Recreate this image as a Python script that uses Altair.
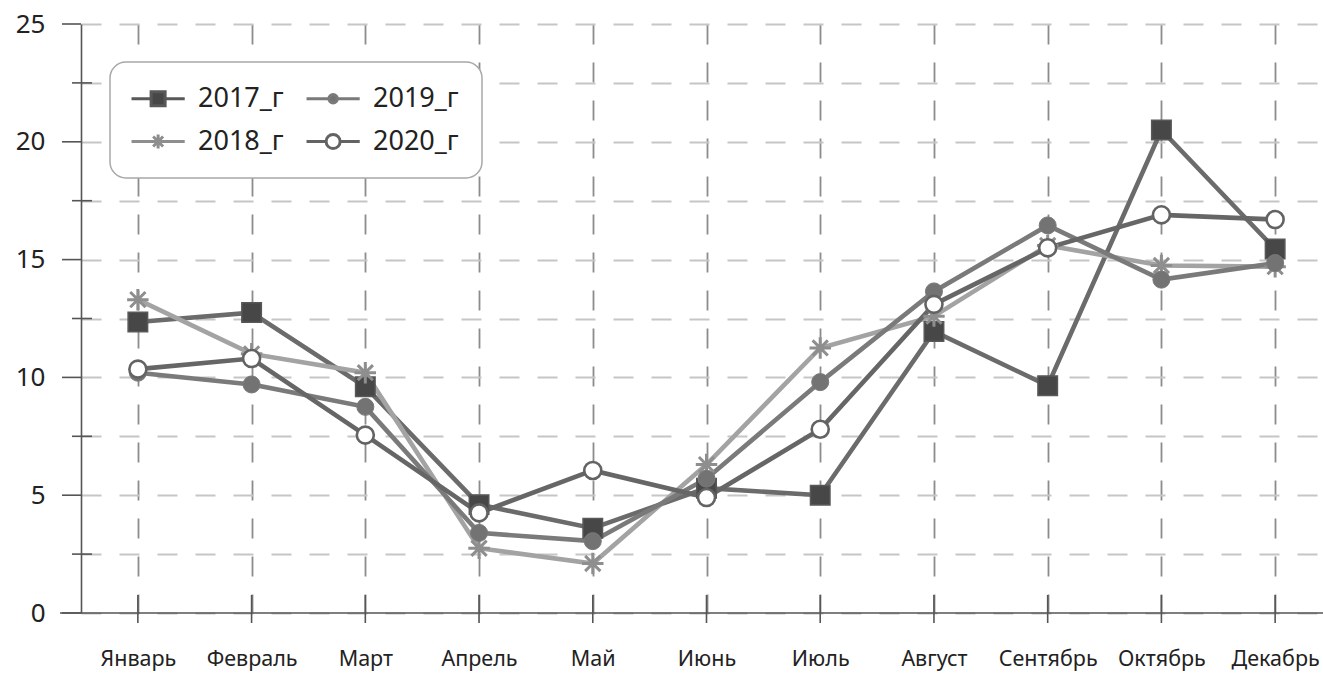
import altair as alt
import pandas as pd

months = ["Январь", "Февраль", "Март", "Апрель", "Май", "Июнь", "Июль",
          "Август", "Сентябрь", "Октябрь", "Декабрь"]
y2017 = [12.35, 12.75, 9.6, 4.6, 3.6, 5.3, 5.0, 11.95, 9.65, 20.5, 15.45]
y2018 = [13.3, 11.0, 10.2, 2.75, 2.1, 6.3, 11.25, 12.6, 15.6, 14.75, 14.7]
y2019 = [10.2, 9.7, 8.75, 3.4, 3.05, 5.7, 9.8, 13.65, 16.45, 14.15, 14.85]
y2020 = [10.35, 10.8, 7.55, 4.25, 6.05, 4.9, 7.8, 13.1, 15.5, 16.9, 16.7]

series_names = ["2017_г", "2018_г", "2019_г", "2020_г"]
series_values = [y2017, y2018, y2019, y2020]
legend_order = ["2017_г", "2018_г", "2019_г", "2020_г"]

y_major = [0, 5, 10, 15, 20, 25]
y_minor = [2.5, 7.5, 12.5, 17.5, 22.5]
y_all = [0, 2.5, 5, 7.5, 10, 12.5, 15, 17.5, 20, 22.5, 25]

# styles
line_color = {"2017_г": "#6b6b6b", "2018_г": "#a3a3a3", "2019_г": "#7a7a7a", "2020_г": "#666666"}
marker_fill = {"2017_г": "#474747", "2018_г": "#8e8e8e", "2019_г": "#737373", "2020_г": "#ffffff"}
marker_stroke = {"2017_г": "#585858", "2018_г": "#8e8e8e", "2019_г": "#7a7a7a", "2020_г": "#636363"}
star = "M 0 -1 L 0 1 M -1 0 L 1 0 M -0.71 -0.71 L 0.71 0.71 M -0.71 0.71 L 0.71 -0.71"
marker_shape = {"2017_г": "square", "2018_г": star, "2019_г": "circle", "2020_г": "circle"}
marker_size = {"2017_г": 380, "2018_г": 460, "2019_г": 290, "2020_г": 290}
marker_sw = {"2017_г": 1.5, "2018_г": 3.0, "2019_г": 1.0, "2020_г": 2.6}
legend_path = {
    "2017_г": "M -2.14 0 L 0.66 0 M 2.66 0 L 5.46 0 M 0.66 -1 L 2.66 -1 L 2.66 1 L 0.66 1 Z",
    "2018_г": "M -2.14 0 L 5.46 0 M 1.66 -1 L 1.66 1 M 0.95 -0.71 L 2.37 0.71 M 0.95 0.71 L 2.37 -0.71",
    "2019_г": "M -2.14 0 L 1.06 0 M 2.26 0 L 5.46 0 M 1.06 0 A 0.6 0.6 0 1 0 2.26 0 A 0.6 0.6 0 1 0 1.06 0 Z",
    "2020_г": "M -2.14 0 L 0.66 0 M 2.66 0 L 5.46 0 M 0.66 0 A 1 1 0 1 0 2.66 0 A 1 1 0 1 0 0.66 0 Z",
}

rows = []
for name, vals in zip(series_names, series_values):
    for m, v in zip(months, vals):
        rows.append({"month": m, "value": v, "series": name})
df = pd.DataFrame(rows)

W, H = 1242, 589
FONT = "Noto Sans"

xscale = alt.Scale(type="point", domain=months, range=[0, 1251], padding=0.5)
yscale = alt.Scale(domain=[0, 25], nice=False, zero=True)

x_axis = alt.Axis(title=None, ticks=False, domain=False, labelAngle=0,
                  labelFont=FONT, labelFontSize=21.5, labelColor="#222222",
                  labelPadding=35, grid=True, gridColor="#8c8c8c",
                  gridDash=[20, 18], gridWidth=1.8)
y_axis = alt.Axis(title=None, values=y_all, ticks=False, domain=True,
                  domainColor="#555555", domainWidth=1.6,
                  labelExpr="datum.value % 5 == 0 ? datum.label : ''",
                  labelFont=FONT, labelFontSize=26, labelColor="#222222",
                  labelPadding=36, grid=True, gridColor="#c6c6c6",
                  gridDash=[20, 18], gridWidth=1.8)


def X():
    return alt.X("month:N", sort=months, scale=xscale, axis=x_axis)


def Y():
    return alt.Y("value:Q", scale=yscale, axis=y_axis)


line_layers = []
point_layers = []
for s in series_names:
    base = alt.Chart(df).transform_filter(alt.datum.series == s)
    line_layers.append(base.mark_line(strokeWidth=4.6, color=line_color[s]).encode(x=X(), y=Y()))
    point_layers.append(
        base.mark_point(
            shape=marker_shape[s], size=marker_size[s], strokeWidth=marker_sw[s],
            fill=marker_fill[s], stroke=marker_stroke[s], opacity=1, filled=True,
        ).encode(x=X(), y=Y())
    )

leg = alt.Legend(title=None, orient="none", legendX=29, legendY=38, columns=2,
                 labelFont=FONT, labelFontSize=27, labelColor="#222222",
                 symbolSize=196, symbolStrokeWidth=3, symbolOpacity=1,
                 labelOffset=38, columnPadding=16, rowPadding=15, padding=23,
                 strokeColor="#a8a8a8", cornerRadius=16, fillColor="#ffffff")

legend_layer = alt.Chart(df).transform_filter("false").mark_point(
    size=196, strokeWidth=3, opacity=1, filled=True
).encode(
    x=X(), y=Y(),
    shape=alt.Shape("series:N", scale=alt.Scale(domain=legend_order,
                    range=[legend_path[s] for s in legend_order]), legend=leg),
    fill=alt.Fill("series:N", scale=alt.Scale(domain=legend_order,
                  range=[marker_fill[s] for s in legend_order]), legend=leg),
    stroke=alt.Stroke("series:N", scale=alt.Scale(domain=legend_order,
                      range=[marker_stroke[s] for s in legend_order]), legend=leg),
)

major_ticks = alt.Chart(pd.DataFrame({"value": y_major})).mark_rule(
    color="#555555", strokeWidth=1.6).encode(y=Y(), x=alt.value(-19), x2=alt.value(0))
minor_ticks = alt.Chart(pd.DataFrame({"value": y_minor})).mark_rule(
    color="#555555", strokeWidth=1.6).encode(y=Y(), x=alt.value(-9), x2=alt.value(11))
x_ticks = alt.Chart(pd.DataFrame({"month": months})).mark_rule(
    color="#555555", strokeWidth=1.6).encode(x=X(), y=alt.value(H - 18), y2=alt.value(H + 10))
x_domain = alt.Chart(pd.DataFrame({"a": [0]})).mark_rule(
    color="#555555", strokeWidth=1.6).encode(
    x=alt.value(-21), x2=alt.value(W), y=alt.value(H))

chart = alt.layer(
    *line_layers, major_ticks, minor_ticks, x_ticks, x_domain, *point_layers, legend_layer
).properties(
    width=W, height=H,
    autosize=alt.AutoSizeParams(type="none"),
    padding={"left": 81, "top": 24, "right": 0, "bottom": 59},
).configure_view(stroke=None).configure_legend(strokeWidth=1.5)

chart.save("out.html", embed_options={"renderer": "svg", "actions": False})
